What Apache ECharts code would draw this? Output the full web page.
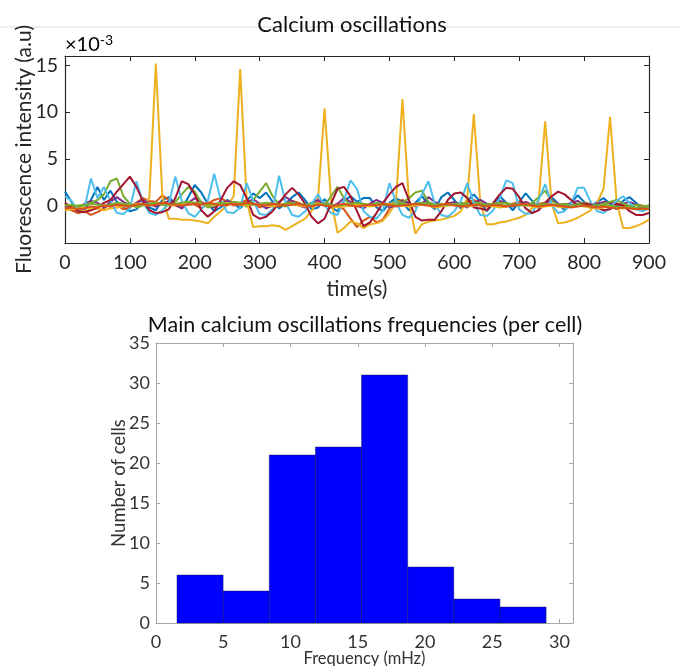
<!DOCTYPE html>
<html>
<head>
<meta charset="utf-8">
<script src="https://cdn.jsdelivr.net/npm/echarts@6/dist/echarts.min.js"></script>
<style>
html,body{margin:0;padding:0;background:#fff;}
#chart{width:679px;height:666px;}
</style>
</head>
<body>
<div id="chart"></div>
<script>
// ---- Top panel: sample times (s) ----
const timeS = [0,10,20,30,40,50,60,70,80,90,100,110,120,130,140,150,160,170,180,190,
200,210,220,230,240,250,260,270,280,290,300,310,320,330,340,350,360,370,380,390,
400,410,420,430,440,450,460,470,480,490,500,510,520,530,540,550,560,570,580,590,
600,610,620,630,640,650,660,670,680,690,700,710,720,730,740,750,760,770,780,790,
800,810,820,830,840,850,860,870,880,890,900];

// Fluorescence intensity (x 10^-3 a.u.)
const cellBlue = [1.5,0.4,-0.8,-0.5,0.6,2.0,0.6,1.6,0.4,-0.2,
-0.6,-0.4,0.3,-0.2,-0.5,0.6,0.9,0.2,-0.3,0.9,
2.2,1.4,0.2,-0.6,-0.2,0.6,0.2,-0.3,0.5,1.3,
0.8,1.4,0.4,-0.3,0.2,0.9,1.4,0.6,-0.4,-0.2,
0.7,-0.2,-0.6,0.5,1.0,0.4,0.8,0.8,-0.2,-0.6,
0.3,0.8,0.4,-0.5,0.3,1.0,0.2,-0.4,0.9,1.4,
0.6,-0.3,0.5,1.2,0.4,-0.6,0.2,1.0,0.3,-0.5,
0.4,1.3,0.5,-0.3,0.1,0.9,0.2,-0.5,0.3,1.1,
0.4,-0.2,0.4,0.8,0.2,-0.4,0.5,0.9,0.3,-0.3,
-0.1];
const cellOrange = [-0.2,-0.5,-0.8,-0.6,-1.0,-0.7,-0.3,0.2,0.1,-0.4,
-0.2,0.3,0.8,0.5,0.4,1.1,0.6,0.0,-0.2,0.2,
0.1,-0.3,0.2,0.6,0.8,0.4,0.0,0.3,0.6,0.2,
-0.2,0.1,0.3,-0.1,0.2,0.5,0.3,0.0,0.2,0.4,
0.1,-0.2,0.0,-0.4,-1.4,-2.3,-1.6,-1.2,-1.8,-1.5,
-0.3,0.4,0.6,0.2,0.0,0.3,0.1,-0.2,0.0,0.3,
0.2,0.0,0.4,0.6,0.3,0.0,0.2,0.1,-0.1,0.2,
0.4,0.1,0.0,0.2,0.3,0.1,-0.1,0.2,0.0,0.1,
0.3,0.2,0.0,0.1,0.4,0.2,0.0,-0.1,0.1,0.0,
-0.2];
const cellYellow = [0.2,-0.3,-0.5,-0.6,-0.4,-0.3,-0.5,-0.3,-0.2,-0.1,
0.0,-0.1,0.1,0.8,15.2,1.0,-1.4,-1.4,-1.5,-1.5,
-1.6,-1.7,-1.9,-1.2,-0.6,0.0,1.0,14.6,0.5,-2.3,
-2.2,-2.2,-2.1,-2.2,-2.6,-2.2,-1.8,-1.4,-0.6,0.8,
10.4,0.6,-2.9,-2.4,-1.7,-1.9,-2.4,-2.0,-1.9,-1.6,
-0.8,0.3,11.4,0.5,-3.0,-2.0,-1.7,-1.6,-1.5,-1.3,
-1.1,-0.6,0.8,9.8,0.3,-2.0,-2.0,-1.8,-1.7,-1.5,
-1.3,-1.0,-0.3,0.6,9.0,0.2,-1.9,-1.8,-1.6,-1.3,
-0.9,-0.5,0.3,1.8,9.5,0.5,-2.4,-2.4,-2.2,-1.9,
-1.5];
const cellPurple = [0.0,-0.4,-0.3,0.2,0.5,0.3,-0.2,0.4,0.9,0.4,
0.0,0.3,0.6,0.2,-0.1,0.2,0.5,0.1,-0.3,0.3,
0.8,0.4,0.0,-0.2,0.2,0.5,0.3,0.0,0.3,0.7,
0.2,-0.3,0.0,0.4,0.9,0.5,0.0,-0.2,0.3,0.6,
0.2,-0.1,0.2,0.8,0.4,0.0,-0.3,0.2,0.6,0.3,
-0.2,0.0,0.5,0.3,-0.1,0.2,0.9,0.4,0.0,0.2,
0.4,0.1,-0.2,0.3,0.6,0.2,0.0,0.5,0.3,-0.1,
0.2,0.4,0.1,-0.2,0.3,0.6,0.2,0.0,0.3,0.5,
0.1,-0.2,0.2,0.4,0.3,0.0,0.2,0.4,0.1,-0.2,
0.0];
const cellGreen = [0.2,-0.1,0.0,0.1,0.3,0.6,1.2,2.6,2.9,1.0,
0.2,-0.2,0.0,0.2,0.3,0.1,0.0,0.4,1.2,2.0,
1.5,0.3,-0.2,0.0,0.2,0.1,0.3,0.2,-0.1,0.6,
1.5,2.4,1.0,0.1,-0.1,0.2,0.1,0.0,0.3,0.2,
0.0,1.0,2.0,0.8,0.0,0.2,0.1,0.0,0.3,0.2,
0.1,0.5,0.3,0.8,1.4,1.6,0.4,0.1,0.2,0.0,
0.1,0.3,0.2,0.4,0.2,0.1,0.0,0.2,0.3,0.1,
0.2,0.0,0.3,0.9,1.6,0.5,0.1,0.2,0.0,0.2,
0.3,0.1,0.0,0.2,0.4,0.6,0.2,0.0,0.1,-0.1,
0.0];
const cellLightBlue = [1.0,0.5,-0.5,-0.3,2.9,0.8,2.0,0.5,-0.8,-0.9,
-0.3,2.6,0.4,-0.8,-1.0,-0.5,0.2,3.1,0.5,-0.8,
-1.2,-0.4,0.5,3.4,0.6,-0.7,-0.8,-0.2,2.4,0.5,
-0.9,-1.0,-0.4,3.2,0.3,-1.0,-1.2,-0.6,0.2,1.2,
0.0,-0.8,-1.0,0.6,2.7,1.8,-0.6,-1.2,-1.4,-0.5,
2.4,0.4,-1.0,-1.3,-0.6,1.2,2.6,0.2,-1.0,-1.2,
-0.6,0.5,2.4,0.3,-1.0,-1.1,-0.5,0.8,2.7,2.4,
-0.4,-0.9,-0.8,0.6,2.3,0.1,-0.8,-0.6,0.2,1.9,
1.9,0.4,-0.6,-0.8,-0.2,0.5,1.0,0.3,-0.4,-0.6,
-0.3];
const cellDarkRed = [0.3,-0.2,-0.6,-0.7,-0.5,-0.2,0.3,0.6,1.5,2.3,
3.1,2.0,0.5,-0.5,-0.8,-0.7,-0.4,0.8,2.6,2.3,
1.2,-0.5,-1.2,-0.6,0.6,1.9,2.6,2.2,0.8,-1.0,
-1.4,-1.2,-0.6,0.3,1.2,1.9,1.2,0.2,-1.2,-1.9,
-1.4,0.2,1.8,2.0,1.0,-0.6,-2.2,-1.8,-0.8,0.3,
1.2,2.0,2.4,0.6,-1.2,-1.6,-1.5,-1.5,-0.6,0.6,
1.3,1.4,0.8,-0.2,-0.3,-0.5,0.3,1.2,1.9,1.8,
0.9,-0.3,-0.8,-0.5,0.3,1.0,1.5,1.2,0.6,0.0,
0.2,0.1,-0.2,-0.5,-0.4,0.2,0.0,-0.6,-1.0,-1.0,
-0.8];
const cellFlatA = [-0.5,-0.4,-0.3,-0.2,-0.3,-0.1,0.0,-0.1,0.1,0.0,
0.1,0.2,0.1,0.0,0.2,0.3,0.1,0.0,0.2,0.1,
0.3,0.2,0.0,0.1,0.2,0.3,0.2,0.1,0.0,0.1,
0.2,0.0,-0.1,0.1,0.2,0.1,0.0,-0.1,0.0,0.2,
0.1,0.0,-0.2,-0.1,0.0,0.1,0.0,-0.1,0.0,0.1,
0.2,0.1,0.0,-0.1,0.0,0.1,0.0,-0.2,-0.1,0.0,
0.1,0.0,-0.1,0.0,0.1,0.0,-0.1,-0.2,-0.1,0.0,
0.1,0.0,-0.1,-0.2,-0.1,0.0,-0.1,-0.2,-0.1,0.0,
-0.1,-0.2,-0.3,-0.2,-0.1,-0.2,-0.3,-0.2,-0.3,-0.4,
-0.3];
const cellFlatB = [0.0,0.1,-0.1,0.0,0.2,0.1,0.0,0.1,0.3,0.2,
0.1,0.0,0.1,0.2,0.3,0.2,0.1,0.2,0.3,0.4,
0.3,0.2,0.1,0.2,0.3,0.2,0.4,0.3,0.2,0.1,
0.2,0.3,0.2,0.1,0.2,0.3,0.2,0.1,0.0,0.1,
0.2,0.1,0.0,0.1,0.2,0.3,0.2,0.1,0.2,0.1,
0.0,0.1,0.2,0.1,0.2,0.3,0.2,0.1,0.0,0.1,
0.2,0.1,0.0,0.1,0.2,0.1,0.2,0.3,0.2,0.1,
0.0,0.1,0.0,0.1,0.2,0.1,0.0,-0.1,0.0,0.1,
0.0,-0.1,0.0,0.1,0.0,-0.1,-0.2,-0.1,-0.2,-0.3,
-0.2];
const cellFlatC = [-0.3,-0.2,-0.4,-0.3,-0.1,-0.2,0.0,-0.1,0.1,0.0,
-0.1,0.1,0.2,0.0,0.1,0.3,0.2,0.1,0.0,0.1,
0.2,0.1,0.3,0.2,0.0,0.1,0.2,0.1,0.3,0.2,
0.1,0.0,0.2,0.1,0.0,0.1,0.2,0.0,-0.1,0.1,
0.0,-0.1,0.1,0.2,0.0,-0.1,0.0,0.1,0.0,0.2,
0.1,-0.1,0.0,0.1,0.2,0.1,0.0,-0.1,0.1,0.2,
0.0,-0.1,0.0,0.1,0.0,-0.1,0.1,0.0,-0.1,0.0,
0.1,0.2,0.0,-0.1,0.0,0.1,0.0,-0.1,-0.2,-0.1,
0.0,-0.1,-0.2,-0.1,-0.2,-0.3,-0.2,-0.3,-0.4,-0.3,
-0.4];
const topYTicks = [0, 5, 10, 15];

// ---- Bottom panel: histogram ----
const binEdges = [1.56, 4.99, 8.42, 11.85, 15.28, 18.71, 22.14, 25.57, 29.0];
const cellCounts = [6, 4, 21, 22, 31, 7, 3, 2];
const freqTicks = [0, 5, 10, 15, 20, 25, 30];

const FONT = 'Lato';
const TXT = '#262626';

const traces = [
  {d: cellBlue, c: '#0072BD'},
  {d: cellOrange, c: '#D95319'},
  {d: cellYellow, c: '#EDB120'},
  {d: cellPurple, c: '#7E2F8E'},
  {d: cellGreen, c: '#77AC30'},
  {d: cellLightBlue, c: '#4DBEEE'},
  {d: cellDarkRed, c: '#A2142F'},
  {d: cellFlatA, c: '#EDB120'},
  {d: cellFlatB, c: '#77AC30'},
  {d: cellFlatC, c: '#D95319'}
];

const lineSeries = traces.map(tr => ({
  type: 'line',
  xAxisIndex: 0, yAxisIndex: 0,
  data: timeS.map((t, i) => [t, tr.d[i]]),
  showSymbol: false,
  symbol: 'none',
  lineStyle: {color: tr.c, width: 2},
  itemStyle: {color: tr.c},
  animation: false,
  z: 2
}));

const histData = cellCounts.map((c, i) => [binEdges[i], binEdges[i + 1], c]);

const histSeries = {
  type: 'custom',
  xAxisIndex: 2, yAxisIndex: 2,
  data: histData,
  encode: {x: [0, 1], y: 2},
  animation: false,
  renderItem: function (params, api) {
    const p0 = api.coord([api.value(0), api.value(2)]);
    const p1 = api.coord([api.value(1), 0]);
    return {
      type: 'rect',
      shape: {x: p0[0], y: p0[1], width: p1[0] - p0[0], height: p1[1] - p0[1]},
      style: {fill: '#0000FF', stroke: 'rgba(20,20,70,0.7)', lineWidth: 0.6}
    };
  }
};

const topAxisLine = {show: true, onZero: false, lineStyle: {color: TXT, width: 1.2}};
const botAxisLine = {show: true, onZero: false, lineStyle: {color: '#a6a6a6', width: 1}};
const labelStyle = {fontFamily: FONT, fontSize: 19.5, color: TXT};
const botLabelStyle = {fontFamily: FONT, fontSize: 18, color: '#333'};

const option = {
  backgroundColor: '#ffffff',
  animation: false,
  title: [
    {text: 'Calcium oscillations', left: 347, top: 9, textAlign: 'center',
     textStyle: {fontFamily: FONT, fontSize: 22, fontWeight: 'normal', color: '#111'}},
    {text: 'Main calcium oscillations frequencies (per cell)', left: 360, top: 309, textAlign: 'center',
     textStyle: {fontFamily: FONT, fontSize: 21.5, fontWeight: 'normal', color: '#111'}}
  ],
  graphic: [
    {type: 'line', shape: {x1: 0, y1: 27, x2: 679, y2: 27}, style: {stroke: '#dcdcdc', lineWidth: 1}, z: -1},
    {type: 'text', left: 65, top: 33,
     style: {text: '{a|\u00d710}{b|-3}', rich: {
       a: {fontFamily: FONT, fontSize: 20, color: TXT},
       b: {fontFamily: FONT, fontSize: 14, color: TXT, verticalAlign: 'top', padding: [0, 0, 10, 0]}
     }}}
  ],
  grid: [
    {left: 65, top: 56, width: 584, height: 187, outerBoundsMode: 'none', containLabel: false},
    {left: 156, top: 343, width: 417, height: 280, outerBoundsMode: 'none', containLabel: false}
  ],
  xAxis: [
    {gridIndex: 0, type: 'value', min: 0, max: 900, interval: 100, position: 'bottom',
     axisLine: topAxisLine, axisTick: {show: true, inside: true, length: 5, lineStyle: {color: TXT}},
     axisLabel: Object.assign({margin: 10}, labelStyle), splitLine: {show: false},
     name: 'time(s)', nameLocation: 'middle', nameGap: 36, nameMoveOverlap: false,
     nameTextStyle: {fontFamily: FONT, fontSize: 21, color: TXT}},
    {gridIndex: 0, type: 'value', min: 0, max: 900, interval: 100, position: 'top',
     axisLine: topAxisLine, axisTick: {show: true, inside: true, length: 5, lineStyle: {color: TXT}},
     axisLabel: {show: false}, splitLine: {show: false}},
    {gridIndex: 1, type: 'value', min: 0, max: 31, position: 'bottom',
     axisLine: botAxisLine,
     axisTick: {show: true, inside: true, length: 4, customValues: freqTicks, lineStyle: {color: '#a6a6a6'}},
     axisLabel: Object.assign({margin: 10, customValues: freqTicks}, botLabelStyle),
     splitLine: {show: false},
     name: 'Frequency (mHz)', nameLocation: 'middle', nameGap: 27, nameMoveOverlap: false,
     nameTextStyle: {fontFamily: FONT, fontSize: 16.5, color: '#333'}},
    {gridIndex: 1, type: 'value', min: 0, max: 31, position: 'top',
     axisLine: botAxisLine,
     axisTick: {show: true, inside: true, length: 4, customValues: freqTicks, lineStyle: {color: '#a6a6a6'}},
     axisLabel: {show: false}, splitLine: {show: false}}
  ],
  yAxis: [
    {gridIndex: 0, type: 'value', min: -4, max: 16, position: 'left',
     axisLine: topAxisLine,
     axisTick: {show: true, inside: true, length: 5, customValues: topYTicks, lineStyle: {color: TXT}},
     axisLabel: Object.assign({margin: 7, customValues: topYTicks}, labelStyle),
     splitLine: {show: false},
     name: 'Fluorescence intensity (a.u)', nameLocation: 'middle', nameRotate: 90, nameGap: 30, nameMoveOverlap: false,
     nameTextStyle: {fontFamily: FONT, fontSize: 21, color: TXT}},
    {gridIndex: 0, type: 'value', min: -4, max: 16, position: 'right',
     axisLine: topAxisLine,
     axisTick: {show: true, inside: true, length: 5, customValues: topYTicks, lineStyle: {color: TXT}},
     axisLabel: {show: false}, splitLine: {show: false}},
    {gridIndex: 1, type: 'value', min: 0, max: 35, interval: 5, position: 'left',
     axisLine: botAxisLine,
     axisTick: {show: true, inside: true, length: 4, lineStyle: {color: '#a6a6a6'}},
     axisLabel: Object.assign({margin: 6}, botLabelStyle),
     splitLine: {show: false},
     name: 'Number of cells', nameLocation: 'middle', nameRotate: 90, nameGap: 27, nameMoveOverlap: false,
     nameTextStyle: {fontFamily: FONT, fontSize: 18.5, color: '#333'}},
    {gridIndex: 1, type: 'value', min: 0, max: 35, interval: 5, position: 'right',
     axisLine: botAxisLine,
     axisTick: {show: true, inside: true, length: 4, lineStyle: {color: '#a6a6a6'}},
     axisLabel: {show: false}, splitLine: {show: false}}
  ],
  series: lineSeries.concat([histSeries])
};

const chart = echarts.init(document.getElementById('chart'), null, {renderer: 'canvas'});
chart.setOption(option);
</script>
</body>
</html>
